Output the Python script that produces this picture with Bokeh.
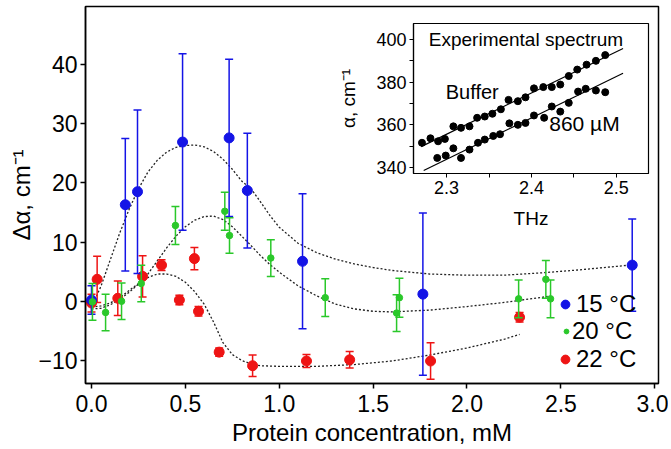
from bokeh.plotting import figure
from bokeh.models import (ColumnDataSource, Legend, LegendItem, FixedTicker,
                          Label, NumeralTickFormatter)
from bokeh.layouts import column
from bokeh.embed import file_html
from bokeh.resources import INLINE

FONT = "Liberation Sans"

# ---------------- main data ----------------
# 15 °C
x15 = [0.0, 0.18, 0.245, 0.485, 0.733, 0.83, 1.124, 1.765, 2.88]
y15 = [0.2, 16.3, 18.5, 26.9, 27.6, 18.7, 6.75, 1.2, 6.1]
e15 = [2.4, 11.2, 13.8, 14.9, 13.3, 9.7, 11.4, 13.7, 7.8]
# 20 °C
x20 = [0.005, 0.075, 0.16, 0.265, 0.447, 0.71, 0.735, 0.955, 1.245, 1.625, 1.64, 2.275, 2.42, 2.445]
y20 = [-0.1, -1.9, 0.0, 3.0, 12.8, 15.2, 11.1, 7.3, 0.6, -2.0, 0.6, 0.4, 3.7, 0.4]
e20 = [3.1, 3.1, 3.1, 3.1, 3.2, 3.2, 3.0, 3.1, 3.2, 3.1, 3.3, 3.2, 3.2, 3.2]
# 22 °C
x22 = [0.0, 0.03, 0.14, 0.272, 0.373, 0.468, 0.548, 0.57, 0.68, 0.858, 1.145, 1.375, 1.806, 2.28]
y22 = [-0.3, 3.7, 0.5, 4.2, 6.1, 0.2, 7.2, -1.7, -8.6, -10.9, -10.1, -9.9, -10.1, -2.7]
e22 = [1.5, 3.9, 2.9, 3.5, 0.9, 0.8, 1.9, 0.8, 0.7, 1.8, 1.1, 1.4, 3.1, 0.8]

# fitted curves
fit15_x = [0.0, 0.05, 0.10, 0.15, 0.20, 0.25, 0.30, 0.35, 0.40, 0.45, 0.50, 0.55, 0.60, 0.65,
           0.70, 0.75, 0.80, 0.85, 0.90, 0.95, 1.0, 1.1, 1.2, 1.3, 1.4, 1.5, 1.6, 1.8, 2.0,
           2.2, 2.4, 2.6, 2.8, 2.9]
fit15_y = [-1.0, 2.5, 7.0, 11.5, 15.5, 19.0, 21.8, 23.8, 25.2, 26.0, 26.3, 26.4, 26.1, 25.3,
           24.0, 22.3, 20.3, 19.0, 16.8, 14.5, 12.5, 9.8, 8.2, 7.1, 6.3, 5.7, 5.2, 4.6, 4.4,
           4.4, 4.8, 5.3, 5.9, 6.2]
fit20_x = [0.0, 0.05, 0.10, 0.15, 0.20, 0.25, 0.30, 0.35, 0.40, 0.45, 0.50, 0.55, 0.60, 0.65,
           0.70, 0.75, 0.80, 0.85, 0.90, 0.95, 1.0, 1.1, 1.2, 1.3, 1.4, 1.5, 1.6, 1.8, 2.0,
           2.2, 2.43]
fit20_y = [-1.3, -1.2, -0.6, 0.3, 1.5, 2.9, 4.6, 6.8, 9.0, 11.0, 12.6, 13.7, 14.3, 14.4,
           13.8, 12.6, 11.0, 9.4, 7.7, 6.2, 4.9, 2.6, 0.9, -0.5, -1.3, -1.7, -1.8, -1.5, -0.9,
           -0.2, 0.8]
fit22_x = [0.0, 0.05, 0.10, 0.15, 0.20, 0.25, 0.30, 0.35, 0.40, 0.45, 0.50, 0.55, 0.60, 0.65,
           0.70, 0.75, 0.80, 0.85, 0.90, 1.0, 1.2, 1.4, 1.6, 1.8, 2.0, 2.2, 2.28]
fit22_y = [-1.0, -0.8, -0.3, 0.6, 1.8, 3.0, 4.0, 4.6, 4.6, 4.2, 3.2, 1.6, -0.5, -3.5,
           -7.0, -9.0, -10.0, -10.6, -10.9, -11.0, -11.0, -10.7, -10.1, -9.1, -7.9, -6.4, -5.6]

x_ticks = [0.0, 0.5, 1.0, 1.5, 2.0, 2.5, 3.0]
y_ticks = [-10, 0, 10, 20, 30, 40]

# ---------------- inset data ----------------
buf_x = [2.271, 2.281, 2.290, 2.298, 2.308, 2.317, 2.327, 2.336, 2.345, 2.354, 2.364, 2.373,
         2.384, 2.393, 2.403, 2.414, 2.424, 2.434, 2.444, 2.454, 2.465, 2.476, 2.487]
buf_y = [351.6, 353.7, 352.3, 353.4, 359.3, 358.6, 359.3, 363.3, 363.9, 365.2, 367.3, 371.7,
         371.1, 372.9, 377.1, 377.7, 377.7, 378.9, 382.9, 385.9, 388.2, 390.0, 392.7]
prot_x = [2.289, 2.299, 2.308, 2.317, 2.327, 2.337, 2.345, 2.355, 2.363, 2.374, 2.384, 2.393,
          2.403, 2.415, 2.424, 2.434, 2.444, 2.455, 2.464, 2.476, 2.487]
prot_y = [344.5, 345.6, 349.0, 344.5, 348.4, 351.6, 353.1, 354.8, 355.6, 360.7, 360.0, 360.9,
          364.4, 363.3, 368.6, 366.2, 370.3, 375.6, 376.9, 376.1, 375.3]
buf_fit_x = [2.27, 2.508]
buf_fit_y = [349.8, 395.8]
prot_fit_x = [2.273, 2.508]
prot_fit_y = [338.6, 384.2]
ins_x_ticks = [2.3, 2.4, 2.5]
ins_y_ticks = [340, 360, 380, 400]

BLUE = "#1414e6"
GREEN = "#2ac82a"
RED = "#ee1414"

p = figure(frame_width=573, frame_height=377, x_range=(-0.032, 3.02), y_range=(-13.9, 49.8),
           output_backend="svg", toolbar_location=None,
           min_border_left=81, min_border_right=14, min_border_top=6, min_border_bottom=64,
           background_fill_color="white", border_fill_color="white")
p.outline_line_color = "black"
p.outline_line_width = 1.5
p.grid.grid_line_color = None

for ax in (p.xaxis[0], p.yaxis[0]):
    ax.axis_line_width = 1.5
    ax.axis_line_color = "black"
    ax.major_tick_line_width = 1.5
    ax.major_tick_out = 5
    ax.major_tick_in = 0
    ax.minor_tick_line_color = None
    ax.major_label_text_font = FONT
    ax.major_label_text_font_size = "23px"
    ax.major_label_text_color = "black"
    ax.axis_label_text_font = FONT
    ax.axis_label_text_font_size = "24px"
    ax.axis_label_text_font_style = "normal"
    ax.axis_label_text_color = "black"
    ax.major_label_standoff = 3
    ax.axis_label_standoff = 0
p.xaxis.major_label_standoff = 6
p.xaxis.axis_label_standoff = 4

p.xaxis.ticker = FixedTicker(ticks=x_ticks)
p.xaxis.formatter = NumeralTickFormatter(format="0.0")
p.yaxis.ticker = FixedTicker(ticks=y_ticks)
p.xaxis.axis_label = "Protein concentration, mM"
p.yaxis.axis_label = "Δα, cm⁻¹"

# fitted curves
for fx, fy in ((fit15_x, fit15_y), (fit20_x, fit20_y), (fit22_x, fit22_y)):
    p.line(fx, fy, line_color="#222222", line_width=1.3, line_dash="2 2")


def series(xs, ys, es, color, size):
    src = ColumnDataSource(dict(x=xs, y=ys,
                                lo=[a - b for a, b in zip(ys, es)],
                                hi=[a + b for a, b in zip(ys, es)]))
    p.segment(x0="x", y0="lo", x1="x", y1="hi", source=src, line_color=color, line_width=1.5)
    p.scatter(x="x", y="hi", source=src, marker="dash", size=8, line_color=color, line_width=1.5)
    p.scatter(x="x", y="lo", source=src, marker="dash", size=8, line_color=color, line_width=1.5)
    return p.scatter(x="x", y="y", source=src, marker="circle", size=size,
                     fill_color=color, line_color=color)


r22 = series(x22, y22, e22, RED, 10)
r15 = series(x15, y15, e15, BLUE, 10)
r20 = series(x20, y20, e20, GREEN, 6.5)


def legend(label, r, loc, gsize, standoff):
    lg = Legend(items=[LegendItem(label=label, renderers=[r])],
                location=loc, padding=0, margin=0, spacing=0,
                glyph_width=gsize, glyph_height=gsize, label_standoff=standoff,
                label_text_font=FONT, label_text_font_size="24px",
                label_text_color="black", label_height=26,
                border_line_color=None, background_fill_alpha=0)
    p.add_layout(lg)


legend("15 °C", r15, (469, 65), 22, 0)
legend("20 °C", r20, (475, 38), 12, 0)
legend("22 °C", r22, (469, 10), 22, 0)

# ---------------- inset ----------------
ins = figure(frame_width=235, frame_height=150, x_range=(2.261, 2.538), y_range=(337.2, 407.5),
             output_backend="svg", toolbar_location=None,
             min_border_left=85, min_border_right=6, min_border_top=4, min_border_bottom=56,
             background_fill_color="white", border_fill_color=None)
ins.outline_line_color = "black"
ins.outline_line_width = 1.2
ins.grid.grid_line_color = None
for ax in (ins.xaxis[0], ins.yaxis[0]):
    ax.axis_line_width = 1.2
    ax.major_tick_out = 4
    ax.major_tick_in = 0
    ax.minor_tick_out = 4
    ax.minor_tick_in = 0
    ax.major_label_text_font = FONT
    ax.major_label_text_font_size = "18px"
    ax.major_label_text_color = "black"
    ax.axis_label_text_font = FONT
    ax.axis_label_text_font_size = "19px"
    ax.axis_label_text_font_style = "normal"
    ax.axis_label_text_color = "black"
    ax.major_label_standoff = 3
    ax.axis_label_standoff = 0
ins.xaxis.ticker = FixedTicker(ticks=ins_x_ticks, minor_ticks=[2.35, 2.45])
ins.yaxis.ticker = FixedTicker(ticks=ins_y_ticks, minor_ticks=[350, 370, 390])
ins.yaxis.axis_label_standoff = 14
ins.xaxis.axis_label_standoff = 11
ins.xaxis.axis_label = "THz"
ins.yaxis.axis_label = "α, cm⁻¹"

ins.line(buf_fit_x, buf_fit_y, line_color="black", line_width=1.2)
ins.line(prot_fit_x, prot_fit_y, line_color="black", line_width=1.2)
ins.scatter(buf_x, buf_y, marker="circle", size=7, color="black")
ins.scatter(prot_x, prot_y, marker="circle", size=7, color="black")

ins.add_layout(Label(x=2.279, y=400.0, text="Experimental spectrum", text_font=FONT,
                     text_font_size="19px", text_baseline="middle", text_color="black"))
ins.add_layout(Label(x=2.299, y=375.5, text="Buffer", text_font=FONT,
                     text_font_size="20px", text_baseline="middle", text_color="black"))
ins.add_layout(Label(x=2.421, y=360.8, text="860 µM", text_font=FONT,
                     text_font_size="21px", text_baseline="middle", text_color="black"))

ins.styles = {"position": "absolute", "left": "328px", "top": "19px"}

layout = column(p, ins)
open("out.html", "w").write(file_html(layout, INLINE))
